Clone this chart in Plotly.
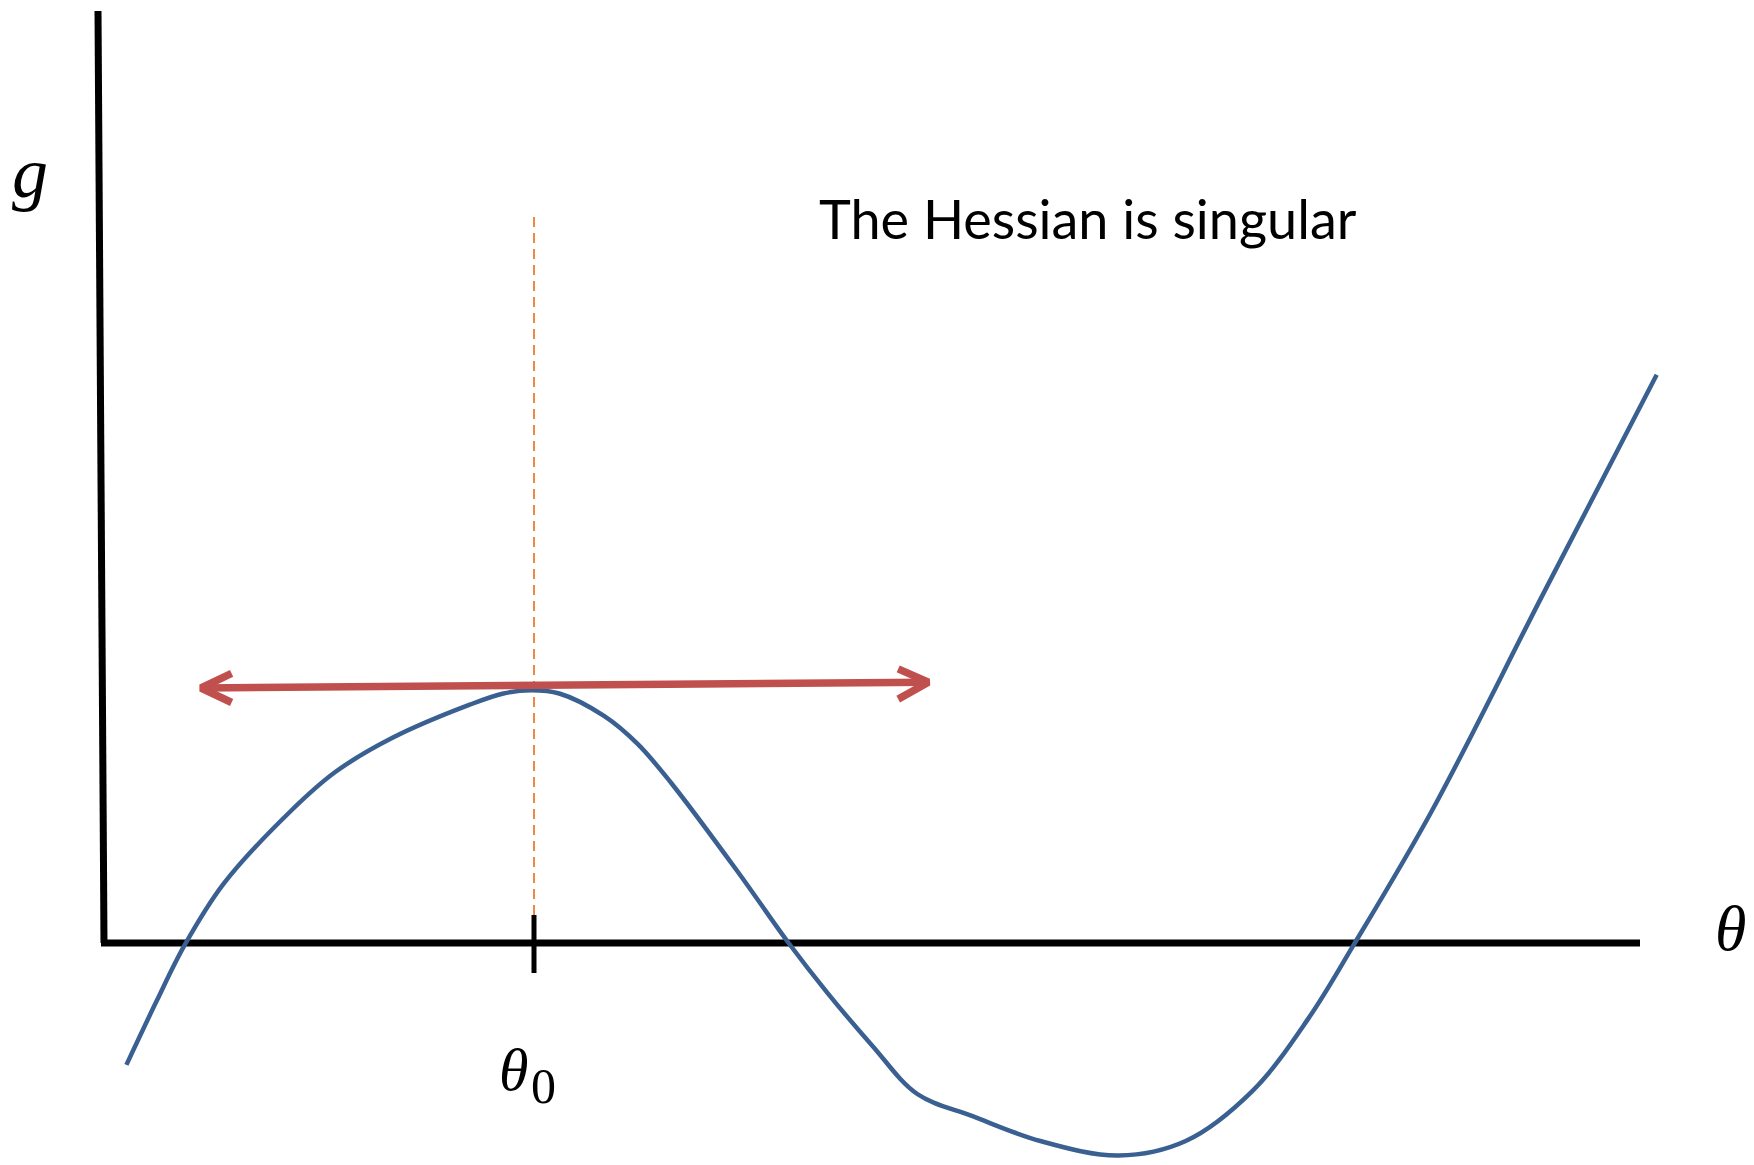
import plotly.graph_objects as go

# Curve g(theta) (data units: x = theta, y = g)
curve_x = [0.224, 0.526, 0.806, 1.197, 1.868, 2.316, 2.875, 3.658, 3.994, 4.273, 4.553,
           5.000, 5.336, 5.672, 6.343, 6.846, 7.238, 7.685, 8.133, 8.692, 9.363, 10.146,
           10.817, 11.488, 12.048, 12.495, 13.278, 14.397, 15.527]
curve_y = [-1.219, -0.581, -0.022, 0.593, 1.320, 1.712, 2.047, 2.383, 2.495, 2.528, 2.495,
           2.271, 1.991, 1.600, 0.705, 0.000, -0.503, -1.029, -1.510, -1.734, -1.980, -2.125,
           -1.980, -1.476, -0.749, -0.022, 1.320, 3.501, 5.683]

# Axes lines
yaxis_x = [-0.06, 0.0]
yaxis_y = [9.32, 0.0]
xaxis_x = [-0.03, 15.36]
xaxis_y = [0.0, 0.0]

# theta_0 marker
theta0 = 4.30
tick_y = [0.28, -0.30]
dash_y = [0.28, 7.30]

# Tangent arrow (red)
arrow_x = [0.97, 8.244]
arrow_y = [2.55, 2.607]
left_head_x = [1.276, 0.97, 1.276]
left_head_y = [2.696, 2.55, 2.405]
right_head_x = [7.942, 8.244, 7.942]
right_head_y = [2.741, 2.607, 2.439]

BLUE = "#3A6091"
RED = "#C0504D"
ORANGE = "#ED7D31"

fig = go.Figure()

fig.add_trace(go.Scatter(x=yaxis_x, y=yaxis_y, mode="lines",
                         line=dict(color="black", width=7), hoverinfo="skip"))
fig.add_trace(go.Scatter(x=xaxis_x, y=xaxis_y, mode="lines",
                         line=dict(color="black", width=7), hoverinfo="skip"))
fig.add_trace(go.Scatter(x=[theta0, theta0], y=dash_y, mode="lines",
                         line=dict(color=ORANGE, width=1.8, dash="10px,6px"), hoverinfo="skip"))
fig.add_trace(go.Scatter(x=[theta0, theta0], y=tick_y, mode="lines",
                         line=dict(color="black", width=5), hoverinfo="skip"))
fig.add_trace(go.Scatter(x=curve_x, y=curve_y, mode="lines",
                         line=dict(color=BLUE, width=4.5, shape="spline", smoothing=1.0),
                         hoverinfo="skip"))
for xs, ys in [(arrow_x, arrow_y), (left_head_x, left_head_y), (right_head_x, right_head_y)]:
    fig.add_trace(go.Scatter(x=xs, y=ys, mode="lines",
                             line=dict(color=RED, width=7.5), hoverinfo="skip"))

fig.add_annotation(x=9.84, y=7.25, text="The Hessian is singular", showarrow=False,
                   font=dict(family="Lato", size=54, color="black"),
                   xanchor="center", yanchor="middle")
fig.add_annotation(x=-0.74, y=7.70, text="<i>g</i>", showarrow=False,
                   font=dict(family="Liberation Serif", size=72, color="black"),
                   xanchor="center", yanchor="middle")
fig.add_annotation(x=16.26, y=0.15, text="<i>θ</i>", showarrow=False,
                   font=dict(family="Liberation Serif", size=64, color="black"),
                   xanchor="center", yanchor="middle")
fig.add_annotation(x=4.09, y=-1.27, text="<i>θ</i>", showarrow=False,
                   font=dict(family="Liberation Serif", size=60, color="black"),
                   xanchor="center", yanchor="middle")
fig.add_annotation(x=4.39, y=-1.43, text="0", showarrow=False,
                   font=dict(family="Liberation Serif", size=50, color="black"),
                   xanchor="center", yanchor="middle")

fig.update_layout(
    width=1754, height=1165,
    margin=dict(l=0, r=0, t=0, b=0),
    paper_bgcolor="white", plot_bgcolor="white",
    showlegend=False,
    xaxis=dict(range=[-1.04, 16.50], visible=False, fixedrange=True),
    yaxis=dict(range=[-2.22, 9.43], visible=False, fixedrange=True),
)

fig.write_html("out.html", config={"displayModeBar": False},
               post_script="document.body.style.margin='0';")
